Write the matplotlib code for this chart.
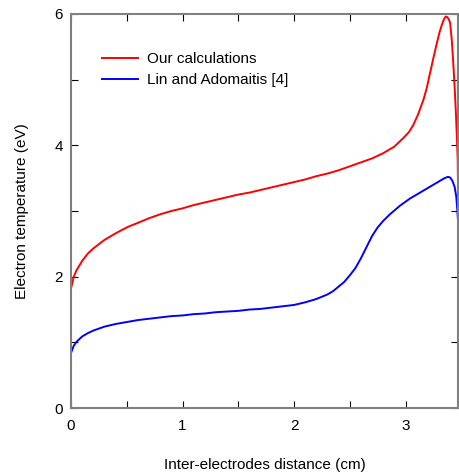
import matplotlib
matplotlib.use("Agg")
import matplotlib.pyplot as plt
from matplotlib.ticker import MultipleLocator

plt.rcParams['font.family'] = ['Liberation Sans', 'DejaVu Sans']

# Our calculations (red)
x_ours = [0, 0.025, 0.05, 0.1, 0.15, 0.2, 0.3, 0.4, 0.5, 0.6, 0.7, 0.8, 0.9, 1.0,
          1.1, 1.2, 1.3, 1.4, 1.5, 1.6, 1.7, 1.8, 1.9, 2.0, 2.1, 2.2, 2.3, 2.4,
          2.5, 2.6, 2.7, 2.8, 2.9, 2.98, 3.03, 3.07, 3.11, 3.16, 3.19, 3.22, 3.25,
          3.28, 3.305, 3.325, 3.345, 3.36, 3.375, 3.39, 3.40, 3.415, 3.43, 3.443,
          3.453, 3.462, 3.468, 3.474]
y_ours = [1.82, 2.00, 2.10, 2.24, 2.35, 2.43, 2.56, 2.66, 2.75, 2.82, 2.89, 2.95,
          3.00, 3.04, 3.09, 3.13, 3.17, 3.21, 3.25, 3.28, 3.32, 3.36, 3.40, 3.44,
          3.48, 3.53, 3.57, 3.62, 3.68, 3.74, 3.80, 3.88, 3.98, 4.11, 4.20, 4.31,
          4.46, 4.69, 4.87, 5.10, 5.33, 5.55, 5.72, 5.83, 5.92, 5.96, 5.95, 5.91,
          5.86, 5.60, 5.20, 4.80, 4.44, 4.05, 3.78, 2.80]

# Lin and Adomaitis [4] (blue)
x_lin = [0, 0.025, 0.05, 0.1, 0.15, 0.2, 0.3, 0.4, 0.5, 0.6, 0.7, 0.8, 0.9, 1.0,
         1.1, 1.2, 1.3, 1.4, 1.5, 1.6, 1.7, 1.8, 1.9, 2.0, 2.1, 2.2, 2.3, 2.35,
         2.4, 2.45, 2.5, 2.55, 2.6, 2.65, 2.7, 2.75, 2.8, 2.86, 2.95, 3.04, 3.13,
         3.22, 3.30, 3.35, 3.38, 3.40, 3.42, 3.44, 3.455, 3.465, 3.474]
y_lin = [0.84, 0.95, 1.01, 1.09, 1.14, 1.18, 1.24, 1.28, 1.31, 1.34, 1.36, 1.38,
         1.40, 1.41, 1.43, 1.44, 1.46, 1.47, 1.48, 1.50, 1.51, 1.53, 1.55, 1.57,
         1.61, 1.66, 1.73, 1.78, 1.85, 1.92, 2.02, 2.13, 2.28, 2.45, 2.62, 2.75,
         2.85, 2.95, 3.08, 3.19, 3.28, 3.37, 3.45, 3.50, 3.52, 3.51, 3.46, 3.37,
         3.22, 3.00, 2.76]

fig = plt.figure(figsize=(4.59, 4.73), dpi=100)
ax = fig.add_axes([71/459, 1 - 408.1/473, (458.5 - 71)/459, (408.1 - 13.9)/473])

ax.plot(x_ours, y_ours, color='#ff0000', lw=1.4, label='Our calculations')
ax.plot(x_lin, y_lin, color='#0000ff', lw=1.4, label='Lin and Adomaitis [4]')

ax.set_xlim(0, 3.475)
ax.set_ylim(0, 6)
ax.xaxis.set_major_locator(MultipleLocator(1))
ax.xaxis.set_minor_locator(MultipleLocator(0.5))
ax.yaxis.set_major_locator(MultipleLocator(2))
ax.yaxis.set_minor_locator(MultipleLocator(1))
ax.tick_params(which='both', direction='in', top=True, right=True,
               length=5, width=0.8, color='black', labelsize=11)
ax.tick_params(axis='x', pad=8)
ax.tick_params(axis='y', pad=6)
for s in ax.spines.values():
    s.set_color('#808080')
    s.set_linewidth(1.5)

ax.set_xlabel('Inter-electrodes distance (cm)', fontsize=11, labelpad=18)
ax.set_ylabel('Electron temperature (eV)', fontsize=11, labelpad=18)

ax.legend(loc='upper left', bbox_to_anchor=(0.044, 0.937), frameon=False,
          fontsize=11, handlelength=2.35, handletextpad=0.6, labelspacing=0.42)

fig.savefig('out.png', dpi=100)
